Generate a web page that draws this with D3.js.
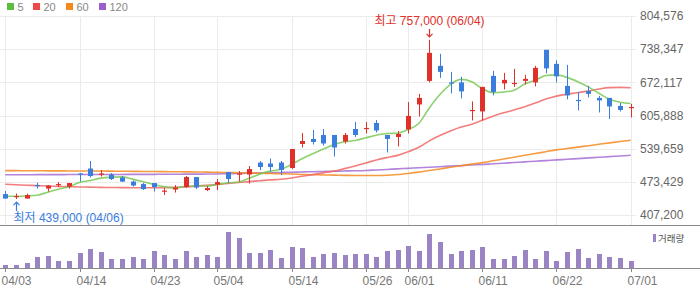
<!DOCTYPE html>
<html>
<head>
<meta charset="utf-8">
<script src="https://cdn.jsdelivr.net/npm/d3@7/dist/d3.min.js"></script>
<style>
  html, body { margin: 0; padding: 0; background: #fff; }
  svg { display: block; font-family: "Liberation Sans", Arial, "Noto Sans CJK KR", sans-serif; }
</style>
</head>
<body>
<div id="chart"></div>
<script>
// 거래일
const dates = [
  "04/03","04/06","04/07","04/08","04/09","04/10","04/13","04/14","04/15","04/16",
  "04/17","04/20","04/21","04/22","04/23","04/24","04/27","04/28","04/29","04/30",
  "05/04","05/06","05/07","05/08","05/11","05/12","05/13","05/14","05/15","05/18",
  "05/19","05/20","05/21","05/22","05/26","05/27","05/28","05/29","06/01","06/02",
  "06/04","06/05","06/08","06/09","06/10","06/11","06/12","06/15","06/16","06/17",
  "06/18","06/19","06/22","06/23","06/24","06/25","06/26","06/29","06/30","07/01"
];

const opens = [
  449000,444000,440000,467000,460000,468000,464000,490000,500000,489000,
  488000,482000,474000,469000,471000,455000,458000,463000,483000,457000,
  468000,493000,489000,488000,512000,510000,512000,501000,549000,559000,
  567000,567000,554000,579000,580000,591000,567000,563000,578000,628000,
  675000,705000,672000,672000,616000,614000,685000,670000,670000,675000,
  672000,737000,709000,665000,637000,655000,641000,641000,625000,622000
];
const highs = [
  455000,450000,450000,472000,467000,473000,471000,491000,515000,497000,
  491000,485000,476000,471000,471000,461000,467000,485000,483000,465000,
  479000,493000,495000,505000,515000,520000,515000,539000,571000,577000,
  579000,567000,571000,593000,593000,597000,567000,575000,633000,649000,
  757000,729000,693000,683000,634000,663000,695000,691000,699000,687000,
  705000,737000,716000,707000,653000,665000,645000,641000,631000,629000
];
const lows = [
  440000,439000,440000,460000,454000,463000,460000,474000,482000,484000,
  477000,473000,464000,457000,454000,447000,452000,461000,459000,455000,
  457000,471000,474000,470000,497000,494000,487000,499000,542000,548000,
  546000,524000,550000,563000,570000,572000,532000,544000,570000,604000,
  672000,681000,650000,640000,596000,596000,646000,658000,663000,668000,
  664000,690000,672000,638000,616000,642000,612000,599000,614000,602000
];
const closes = [
  440000,445000,447000,466000,466000,469000,471000,489000,485000,490000,
  479000,474000,466000,459000,463000,456000,462000,483000,462000,461000,
  473000,479000,490000,499000,503000,503000,497000,539000,555000,553000,
  550000,542000,567000,567000,581000,576000,559000,569000,605000,641000,
  731000,693000,671000,654000,617000,663000,653000,677000,671000,679000,
  701000,700000,684000,646000,636000,649000,636000,624000,617000,623000
];
const volumes = [
  33000,33000,53000,113000,123000,73000,73000,153000,193000,163000,
  93000,93000,113000,93000,173000,133000,93000,173000,113000,133000,
  113000,363000,303000,153000,153000,183000,103000,213000,203000,113000,
  143000,153000,133000,143000,143000,113000,173000,183000,223000,173000,
  343000,263000,143000,173000,183000,213000,93000,93000,123000,183000,
  93000,173000,73000,163000,193000,103000,143000,113000,103000,73000
];

// 이동평균선
const ma5 = [
  444600,444600,445200,446600,452800,458600,463800,472200,476000,480800,
  482800,483400,478800,473600,468200,463600,461200,464600,465200,464800,
  468200,471600,473000,480400,488800,494800,498400,508200,519400,529400,
  538800,547800,553400,555800,561400,566600,570000,570400,578000,590000,
  621000,647800,668200,678000,673200,659600,651600,652800,656200,668600,
  676200,685600,687000,682000,673400,663000,650200,638200,632400,629800
];
const ma20 = [
  468500,467600,466700,465800,465000,464300,463700,463200,462800,462400,
  462100,461900,461700,461600,461600,461800,462400,463300,464800,466650,
  468300,470000,472150,473800,475650,477350,478650,481150,484650,487800,
  491350,494750,499800,505200,511100,517100,521950,526250,533400,542400,
  555300,566000,575050,582800,588500,596500,604300,611200,617000,623300,
  630850,638750,644600,648550,651300,654950,658800,661550,662150,661250
];
const ma60 = [
  495800,495800,495600,495600,495400,495400,495200,495200,495000,495000,
  494800,494600,494400,494200,494000,493800,493600,493400,493200,492800,
  492400,492000,491600,491200,490600,490200,489600,489000,488200,487600,
  487200,486800,486400,486200,486200,486200,486600,488000,490200,492800,
  496000,499200,502400,505600,508800,511800,515400,519000,522600,526400,
  530000,533600,537200,540000,542800,545600,548400,551200,554000,556600
];
const ma120 = [
  487600,487600,487600,487800,487800,487800,488000,488000,488000,488200,
  488200,488200,488400,488400,488400,488600,488600,488800,488800,489000,
  489200,489600,490200,490600,491200,491600,492200,492600,493200,493600,
  494200,494600,495200,495600,496200,497200,498200,499400,500400,501600,
  502600,503600,504800,505800,507000,508000,509400,510600,512000,513200,
  514600,515800,517200,518400,519800,521200,522400,523800,525000,526400
];

const xTickLabels = ["04/03","04/14","04/23","05/04","05/14","05/26","06/01","06/11","06/22","07/01"];
const yTicks = [407200, 473429, 539659, 605888, 672117, 738347, 804576];
const maNames = ["5", "20", "60", "120"];
const maColors = ["#5dbd3f", "#ee4848", "#f5891f", "#9b5fcb"];
const maLineColors = ["#79c956", "#f06767", "#f5891f", "#a46fd3"];

const UP = "#e0302a", DOWN = "#3a7ddc";
const W = 700, H = 289;

const svg = d3.select("#chart").append("svg")
    .attr("width", W)
    .attr("height", H);

// 스케일
const x = d3.scaleBand().domain(dates).range([0, 636]);
const cx = d => Math.round(x(d) + x.bandwidth() / 2);
const y = d3.scaleLinear().domain([yTicks[0], yTicks[yTicks.length - 1]]).range([215, 16]);
const yv = d3.scaleLinear().domain([0, 423000]).range([268.3, 226]);

// 그리드
svg.append("g").selectAll("line")
    .data(yTicks)
    .join("line")
    .attr("x1", 0).attr("x2", 636)
    .attr("y1", d => Math.round(y(d)) + 0.5)
    .attr("y2", d => Math.round(y(d)) + 0.5)
    .attr("stroke", "#ebebeb");

svg.append("g").selectAll("line")
    .data(xTickLabels)
    .join("line")
    .attr("x1", d => cx(d) + 0.5).attr("x2", d => cx(d) + 0.5)
    .attr("y1", Math.round(y(yTicks[yTicks.length - 1])))
    .attr("y2", 225)
    .attr("stroke", "#ebebeb");

// y축 라벨
svg.append("g").selectAll("text")
    .data(yTicks)
    .join("text")
    .attr("x", 640)
    .attr("y", d => y(d))
    .attr("dy", "0.36em")
    .attr("font-size", 12)
    .attr("fill", "#666")
    .text(d => d3.format(",")(d));

// 이동평균선
const mas = [ma5, ma20, ma60, ma120];
const line = d3.line()
    .x((d, i) => x(dates[i]) + x.bandwidth() / 2)
    .y(d => y(d))
    .curve(d3.curveMonotoneX);

svg.append("g").selectAll("path")
    .data(mas.slice().reverse())
    .join("path")
    .attr("d", d => line(d))
    .attr("fill", "none")
    .attr("stroke", (d, i) => maLineColors[3 - i])
    .attr("stroke-width", 1.6)
    .attr("stroke-opacity", 0.85);

// 캔들
const candles = svg.append("g").selectAll("g")
    .data(dates.map((d, i) => ({date: d, o: opens[i], h: highs[i], l: lows[i], c: closes[i]})))
    .join("g");

candles.append("line")
    .attr("x1", d => cx(d.date) + 0.5)
    .attr("x2", d => cx(d.date) + 0.5)
    .attr("y1", d => y(d.h))
    .attr("y2", d => y(d.l))
    .attr("stroke", d => d.c >= d.o ? UP : DOWN);

candles.append("rect")
    .attr("x", d => cx(d.date) - 2)
    .attr("width", 5)
    .attr("y", d => y(Math.max(d.o, d.c)))
    .attr("height", d => Math.max(1.2, y(Math.min(d.o, d.c)) - y(Math.max(d.o, d.c))))
    .attr("fill", d => d.c >= d.o ? UP : DOWN);

// 최고 / 최저 표시
const hiIdx = highs.indexOf(d3.max(highs));
const loIdx = lows.indexOf(d3.min(lows));
const hx = cx(dates[hiIdx]) + 0.5;
const lx = cx(dates[loIdx]) + 0.5;

svg.append("text")
    .attr("x", hx).attr("y", 25)
    .attr("text-anchor", "middle")
    .attr("font-size", 12)
    .attr("fill", UP)
    .text(`최고 ${d3.format(",")(highs[hiIdx])} (${dates[hiIdx]})`);
svg.append("path")
    .attr("d", `M${hx},29V${y(highs[hiIdx]) - 3}M${hx - 3},${y(highs[hiIdx]) - 6}L${hx},${y(highs[hiIdx]) - 3}L${hx + 3},${y(highs[hiIdx]) - 6}`)
    .attr("fill", "none")
    .attr("stroke", UP)
    .attr("stroke-width", 1.2);

svg.append("text")
    .attr("x", lx - 3).attr("y", 222)
    .attr("font-size", 12)
    .attr("fill", DOWN)
    .text(`최저 ${d3.format(",")(lows[loIdx])} (${dates[loIdx]})`);
svg.append("path")
    .attr("d", `M${lx},211V${y(lows[loIdx]) + 3}M${lx - 3},${y(lows[loIdx]) + 6}L${lx},${y(lows[loIdx]) + 3}L${lx + 3},${y(lows[loIdx]) + 6}`)
    .attr("fill", "none")
    .attr("stroke", DOWN)
    .attr("stroke-width", 1.2);

// 구분선
svg.append("line")
    .attr("x1", 0).attr("x2", W)
    .attr("y1", 225.5).attr("y2", 225.5)
    .attr("stroke", "#8a8a8a");

// 거래량
svg.append("g").selectAll("rect")
    .data(volumes)
    .join("rect")
    .attr("x", (d, i) => cx(dates[i]) - 2)
    .attr("width", 5)
    .attr("y", d => yv(d))
    .attr("height", d => yv(0) - yv(d))
    .attr("fill", "#9a84c4");

// x축
svg.append("line")
    .attr("x1", 0).attr("x2", W)
    .attr("y1", 268.5).attr("y2", 268.5)
    .attr("stroke", "#8a8a8a");

const xt = svg.append("g").selectAll("g")
    .data(xTickLabels)
    .join("g");
xt.append("line")
    .attr("x1", d => cx(d) + 0.5).attr("x2", d => cx(d) + 0.5)
    .attr("y1", 268.5).attr("y2", 272)
    .attr("stroke", "#8a8a8a");
xt.append("text")
    .attr("x", d => cx(d) - 3.5)
    .attr("y", 285)
    .attr("font-size", 12)
    .attr("fill", "#777")
    .text(d => d);

// 거래량 범례
svg.append("rect")
    .attr("x", 653).attr("y", 234)
    .attr("width", 3).attr("height", 8)
    .attr("fill", "#9a84c4");
svg.append("text")
    .attr("x", 658).attr("y", 242)
    .attr("font-size", 9.5)
    .attr("fill", "#555")
    .text("거래량");

// 이동평균 범례
const legendX = [7, 33, 66, 99];
const lg = svg.append("g").selectAll("g")
    .data(maNames)
    .join("g")
    .attr("transform", (d, i) => `translate(${legendX[i]},3)`);
lg.append("rect")
    .attr("width", 7).attr("height", 7)
    .attr("fill", (d, i) => maColors[i]);
lg.append("text")
    .attr("x", 10.5).attr("y", 7.5)
    .attr("font-size", 11)
    .attr("fill", "#888")
    .text(d => d);
</script>
</body>
</html>
